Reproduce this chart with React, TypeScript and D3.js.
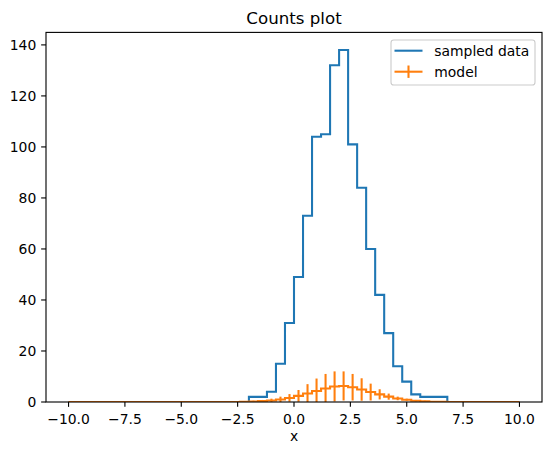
import * as d3 from "d3";

// Histogram binning: 50 bins of width 0.4 on [-10, 10]
const BIN_LO = -10;
const BIN_HI = 10;
const BIN_COUNT = 50;

// sampled data counts, one per bin (left to right)
const SAMPLED_COUNTS = [
  0, 0, 0, 0, 0, 0, 0, 0, 0, 0,
  0, 0, 0, 0, 0, 0, 0, 0, 0, 0,
  2, 2, 4, 15, 31, 49, 73, 104, 105, 132,
  138, 101, 84, 60, 42, 27, 14, 8, 3, 2,
  2, 2, 0, 0, 0, 0, 0, 0, 0, 0,
];

// model counts per bin
const MODEL_COUNTS = [
  0, 0, 0, 0, 0, 0, 0, 0, 0, 0,
  0, 0, 0, 0, 0, 0, 0, 0, 0, 0.1,
  0.2, 0.35, 0.6, 1.0, 1.6, 2.4, 3.3, 4.3, 5.3, 6.1,
  6.3, 5.8, 4.9, 3.9, 3.0, 2.1, 1.4, 0.9, 0.5, 0.3,
  0.1, 0.05, 0, 0, 0, 0, 0, 0, 0, 0,
];

// model error bar half-heights per bin
const MODEL_ERRORS = [
  0, 0, 0, 0, 0, 0, 0, 0, 0, 0,
  0, 0, 0, 0, 0, 0, 0, 0, 0, 0.15,
  0.3, 0.45, 0.7, 1.1, 1.5, 2.3, 3.7, 4.9, 5.7, 5.9,
  5.7, 5.2, 4.4, 3.3, 2.0, 1.2, 0.7, 0.4, 0.3, 0.2,
  0.1, 0.05, 0, 0, 0, 0, 0, 0, 0, 0,
];

const X_TICKS = [-10, -7.5, -5, -2.5, 0, 2.5, 5, 7.5, 10];
const Y_TICKS = [0, 20, 40, 60, 80, 100, 120, 140];

const TITLE = "Counts plot";
const X_LABEL = "x";
const LEGEND_LABELS = ["sampled data", "model"];

// ---------------------------------------------------------------------------
const W = 552;
const H = 455;
const PLOT = { left: 46, right: 542, top: 32.4, bottom: 402 };
const BLUE = "#1f77b4";
const ORANGE = "#ff7f0e";
const FONT = "DejaVu Sans, sans-serif";
const LW = 2.08;
const TICK_LEN = 4.86;
const TICK_FS = 13.9;

type Pt = { x: number; y: number };

const fmtTick = (v: number) => d3.format(".1f")(v).replace("-", "\u2212");

export default function App() {
  const binW = (BIN_HI - BIN_LO) / BIN_COUNT;
  const edges = d3.range(BIN_COUNT + 1).map((i) => BIN_LO + i * binW);

  const x = d3.scaleLinear().domain([-11, 11]).range([PLOT.left, PLOT.right]);
  const yMax = d3.max(SAMPLED_COUNTS)! * 1.05;
  const y = d3.scaleLinear().domain([0, yMax]).range([PLOT.bottom, PLOT.top]);

  const stepLine = d3
    .line<Pt>()
    .x((d) => x(d.x))
    .y((d) => y(d.y))
    .curve(d3.curveStepAfter);

  // blue: histtype="step" outline
  const bluePts: Pt[] = [
    { x: edges[0], y: 0 },
    ...SAMPLED_COUNTS.map((c, i) => ({ x: edges[i], y: c })),
    { x: edges[BIN_COUNT], y: SAMPLED_COUNTS[BIN_COUNT - 1] },
    { x: edges[BIN_COUNT], y: 0 },
  ];
  const bluePath = stepLine(bluePts) ?? "";

  // orange: model step line
  const orangePts: Pt[] = [
    ...MODEL_COUNTS.map((c, i) => ({ x: edges[i], y: c })),
    { x: edges[BIN_COUNT], y: MODEL_COUNTS[BIN_COUNT - 1] },
  ];
  const orangePath = stepLine(orangePts) ?? "";

  const centers = MODEL_COUNTS.map((_, i) => (edges[i] + edges[i + 1]) / 2);

  const legX = 391;
  const legY = 40;

  return (
    <svg
      width={W}
      height={H}
      style={{ position: "absolute", left: 0, top: 0, background: "#fff" }}
      fontFamily={FONT}
    >
      <defs>
        <clipPath id="plot-clip">
          <rect
            x={PLOT.left}
            y={PLOT.top}
            width={PLOT.right - PLOT.left}
            height={PLOT.bottom - PLOT.top}
          />
        </clipPath>
      </defs>

      {/* title */}
      <text
        x={(PLOT.left + PLOT.right) / 2}
        y={24.1}
        textAnchor="middle"
        fontSize={16.67}
        fill="#000"
      >
        {TITLE}
      </text>

      {/* data */}
      <g clipPath="url(#plot-clip)">
        <path d={bluePath} fill="none" stroke={BLUE} strokeWidth={LW} strokeLinejoin="miter" />
        <path d={orangePath} fill="none" stroke={ORANGE} strokeWidth={LW} />
        {centers.map((c, i) =>
          MODEL_ERRORS[i] > 0 ? (
            <line
              key={i}
              x1={x(c)}
              x2={x(c)}
              y1={y(MODEL_COUNTS[i] - MODEL_ERRORS[i])}
              y2={y(MODEL_COUNTS[i] + MODEL_ERRORS[i])}
              stroke={ORANGE}
              strokeWidth={LW}
            />
          ) : null,
        )}
      </g>

      {/* spines */}
      <rect
        x={PLOT.left}
        y={PLOT.top}
        width={PLOT.right - PLOT.left}
        height={PLOT.bottom - PLOT.top}
        fill="none"
        stroke="#000"
        strokeWidth={1.11}
      />

      {/* x ticks */}
      {X_TICKS.map((t) => (
        <g key={t}>
          <line
            x1={x(t)}
            x2={x(t)}
            y1={PLOT.bottom}
            y2={PLOT.bottom + TICK_LEN}
            stroke="#000"
            strokeWidth={1.11}
          />
          <text x={x(t)} y={423.5} textAnchor="middle" fontSize={TICK_FS} fill="#000">
            {fmtTick(t)}
          </text>
        </g>
      ))}

      {/* y ticks */}
      {Y_TICKS.map((t) => (
        <g key={t}>
          <line
            x1={PLOT.left - TICK_LEN}
            x2={PLOT.left}
            y1={y(t)}
            y2={y(t)}
            stroke="#000"
            strokeWidth={1.11}
          />
          <text
            x={PLOT.left - 2 * TICK_LEN}
            y={y(t)}
            dy="0.36em"
            textAnchor="end"
            fontSize={TICK_FS}
            fill="#000"
          >
            {t}
          </text>
        </g>
      ))}

      {/* x label */}
      <text x={(PLOT.left + PLOT.right) / 2} y={441} textAnchor="middle" fontSize={TICK_FS} fill="#000">
        {X_LABEL}
      </text>

      {/* legend */}
      <g>
        <rect
          x={legX}
          y={legY}
          width={144}
          height={45}
          rx={2.8}
          fill="#fff"
          fillOpacity={0.8}
          stroke="#cccccc"
          strokeWidth={1.11}
        />
        <line x1={394.5} x2={422.5} y1={50.7} y2={50.7} stroke={BLUE} strokeWidth={LW} />
        <text x={434.3} y={50.7} dy="0.36em" fontSize={TICK_FS} fill="#000">
          {LEGEND_LABELS[0]}
        </text>
        <line x1={394.5} x2={422.5} y1={71.7} y2={71.7} stroke={ORANGE} strokeWidth={LW} />
        <line x1={408.5} x2={408.5} y1={65.5} y2={77.9} stroke={ORANGE} strokeWidth={LW} />
        <text x={434.3} y={71.7} dy="0.36em" fontSize={TICK_FS} fill="#000">
          {LEGEND_LABELS[1]}
        </text>
      </g>
    </svg>
  );
}
